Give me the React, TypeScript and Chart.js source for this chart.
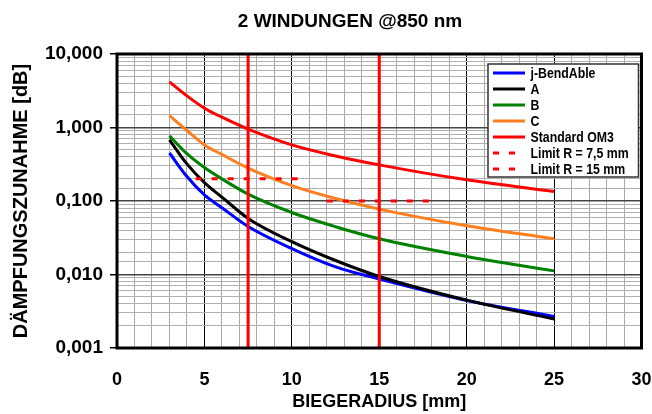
import React, { useEffect, useRef } from 'react';
import { Chart, registerables } from 'chart.js';

Chart.register(...registerables);

const FONT = '"Liberation Sans", Arial, sans-serif';

const chartTitle = '2 WINDUNGEN @850 nm';
const xTitle = 'BIEGERADIUS [mm]';
const yTitle = 'DÄMPFUNGSZUNAHME [dB]';

const radii = [3, 4, 5, 6, 7.5, 10, 12.5, 15, 20, 25];
const jBendAble = [0.45, 0.215, 0.121, 0.081, 0.045, 0.0225, 0.0127, 0.0087, 0.00444, 0.00269];
const fiberA = [0.68, 0.32, 0.178, 0.113, 0.058, 0.028, 0.0155, 0.0094, 0.00448, 0.00248];
const fiberB = [0.77, 0.44, 0.285, 0.2, 0.124, 0.0697, 0.0447, 0.0306, 0.0176, 0.0112];
const fiberC = [1.45, 0.91, 0.58, 0.43, 0.28, 0.162, 0.108, 0.0776, 0.046, 0.0306];
const standardOM3 = [4.17, 2.69, 1.83, 1.38, 0.95, 0.58, 0.41, 0.31, 0.194, 0.135];

const limit75Radii = [4.5, 10.5];
const limit75Level = 0.2;
const limit15Radii = [12, 18];
const limit15Level = 0.1;
const limitRadii = [7.5, 15];

const xRange = [0, 30];
const yRange = [0.001, 10];
const yTickLabels = ['0,001', '0,010', '0,100', '1,000', '10,000'];

const seriesLabels = ['j-BendAble', 'A', 'B', 'C', 'Standard OM3', 'Limit R = 7,5 mm', 'Limit R = 15 mm'];
const seriesColors = ['#0000ff', '#000000', '#008000', '#ff7f1e', '#ff0000', '#ff0000', '#ff0000'];

const isDecade = (v: number) => Math.abs(Math.log10(v) - Math.round(Math.log10(v))) < 1e-6;

const pts = (xs: number[], ys: number[]) => xs.map((x, i) => ({ x, y: ys[i] }));

const frameAndLegend = {
  id: 'frameAndLegend',
  afterDraw(chart: any) {
    const { ctx, chartArea } = chart;
    ctx.save();
    ctx.strokeStyle = '#000';
    ctx.lineWidth = 3;
    ctx.strokeRect(chartArea.left, chartArea.top, chartArea.right - chartArea.left, chartArea.bottom - chartArea.top);

    // chart title
    ctx.fillStyle = '#000';
    ctx.font = 'bold 19px ' + FONT;
    ctx.textAlign = 'center';
    ctx.textBaseline = 'alphabetic';
    ctx.fillText(chartTitle, 350, 27);

    // legend
    const bx = chartArea.left + 371;
    const by = chartArea.top + 10;
    const bw = chartArea.right - 3 - bx;
    const bh = 113;
    ctx.fillStyle = '#fff';
    ctx.fillRect(bx, by, bw, bh);
    ctx.strokeStyle = '#333';
    ctx.lineWidth = 1.5;
    ctx.strokeRect(bx, by, bw, bh);

    ctx.font = 'bold 15px ' + FONT;
    ctx.textBaseline = 'middle';
    ctx.textAlign = 'left';
    const items = chart.data.datasets.filter((d: any) => d.inLegend);
    items.forEach((d: any, i: number) => {
      const y = by + 9 + i * 16;
      ctx.beginPath();
      ctx.strokeStyle = d.borderColor;
      ctx.lineWidth = 3;
      ctx.setLineDash(d.borderDash || []);
      ctx.moveTo(bx + 5, y);
      ctx.lineTo(bx + 37, y);
      ctx.stroke();
      ctx.setLineDash([]);
      ctx.fillStyle = '#000';
      ctx.save();
      ctx.translate(bx + 42.5, y + 0.5);
      ctx.scale(0.82, 1);
      ctx.fillText(d.label, 0, 0);
      ctx.restore();
    });
    ctx.restore();
  },
};

export default function App() {
  const ref = useRef<HTMLCanvasElement | null>(null);

  useEffect(() => {
    document.body.style.margin = '0';
    if (!ref.current) return;
    const curves = [jBendAble, fiberA, fiberB, fiberC, standardOM3];
    const datasets: any[] = curves.map((vals, i) => ({
      label: seriesLabels[i],
      data: pts(radii, vals),
      borderColor: seriesColors[i],
      borderWidth: 3,
      pointRadius: 0,
      cubicInterpolationMode: 'monotone',
      inLegend: true,
      order: 10 - i,
    }));
    datasets.push({
      label: seriesLabels[5],
      data: pts(limit75Radii, limit75Radii.map(() => limit75Level)),
      borderColor: seriesColors[5],
      borderWidth: 3,
      borderDash: [6, 10],
      pointRadius: 0,
      inLegend: true,
      order: 2,
    });
    datasets.push({
      label: seriesLabels[6],
      data: pts(limit15Radii, limit15Radii.map(() => limit15Level)),
      borderColor: seriesColors[6],
      borderWidth: 3,
      borderDash: [6, 10],
      pointRadius: 0,
      inLegend: true,
      order: 2,
    });
    limitRadii.forEach((r) => {
      datasets.push({
        label: 'R ' + r,
        data: pts([r, r], yRange),
        borderColor: '#ff0000',
        borderWidth: 3,
        pointRadius: 0,
        inLegend: false,
        order: 0,
      });
    });

    const chart = new Chart(ref.current, {
      type: 'line',
      data: { datasets },
      plugins: [frameAndLegend],
      options: {
        animation: false,
        responsive: false,
        devicePixelRatio: 1,
        layout: { padding: { left: 0, right: 10.5, top: 54, bottom: 0 } },
        plugins: {
          legend: { display: false },
          tooltip: { enabled: false },
          title: { display: false },
        },
        scales: {
          x: {
            type: 'linear',
            min: xRange[0],
            max: xRange[1],
            afterFit: (s: any) => { s.height = 66; },
            ticks: {
              stepSize: 1,
              autoSkip: false,
              maxRotation: 0,
              padding: 0,
              color: '#000',
              font: { family: FONT, size: 18, weight: 'bold' },
              callback: (v: any) => (Number(v) % 5 === 0 ? String(v) : ''),
            },
            grid: {
              drawTicks: true,
              tickLength: 21,
              tickColor: 'rgba(0,0,0,0)',
              color: (c: any) => (c.tick && c.tick.value % 5 === 0 ? '#000' : '#a8a8a8'),
              lineWidth: 1,
            },
            border: { display: false },
            title: {
              display: true,
              text: xTitle,
              color: '#000',
              font: { family: FONT, size: 18, weight: 'bold', lineHeight: 1 },
              padding: { top: 0, bottom: 3 },
            },
          },
          y: {
            type: 'logarithmic',
            min: yRange[0],
            max: yRange[1],
            afterFit: (s: any) => { s.width = 117; },
            ticks: {
              autoSkip: false,
              padding: 7,
              color: '#000',
              font: { family: FONT, size: 19, weight: 'bold' },
              callback: (v: any) => {
                const n = Number(v);
                if (!isDecade(n)) return '';
                return yTickLabels[Math.round(Math.log10(n)) + 3];
              },
            },
            grid: {
              tickLength: 7,
              color: (c: any) => (c.tick && isDecade(c.tick.value) ? '#444' : '#b0b0b0'),
              tickColor: (c: any) => (c.tick && isDecade(c.tick.value) ? '#000' : 'rgba(0,0,0,0)'),
              lineWidth: (c: any) => (c.tick && isDecade(c.tick.value) ? 1.5 : 1),
            },
            border: { display: false },
            title: {
              display: true,
              text: yTitle,
              color: '#000',
              font: { family: FONT, size: 20, weight: 'bold', lineHeight: 1 },
              padding: { top: 11, bottom: 0 },
            },
          },
        },
      } as any,
    });
    return () => chart.destroy();
  }, []);

  return (
    <div style={{ width: 652, height: 414 }}>
      <canvas ref={ref} width={652} height={414} />
    </div>
  );
}
